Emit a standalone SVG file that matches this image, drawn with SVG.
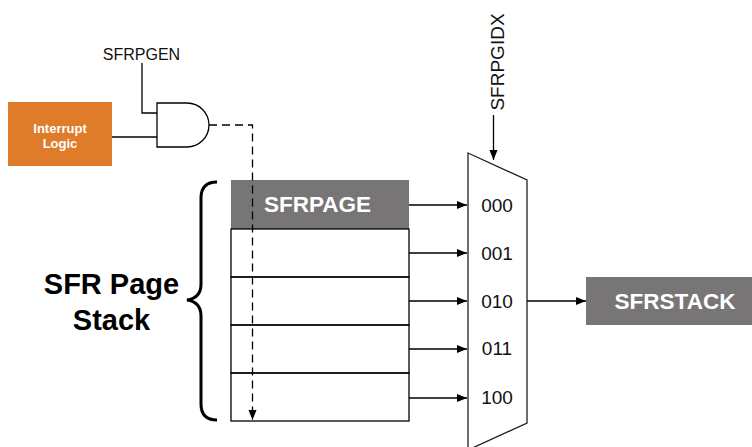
<svg xmlns="http://www.w3.org/2000/svg" width="752" height="447" viewBox="0 0 752 447">
<defs>
<marker id="ah" viewBox="0 0 10 10" refX="10" refY="5" markerWidth="10" markerHeight="10" markerUnits="userSpaceOnUse" orient="auto">
<path d="M0,1 L10,5 L0,9 Z" fill="#000"/>
</marker>
<style>
.ln{stroke:#000;stroke-width:1.3;fill:none}
.lbl{font-family:"Liberation Sans",Arial,sans-serif;fill:#111}
.wt{font-family:"Liberation Sans",Arial,sans-serif;fill:#fff;font-weight:bold;text-anchor:middle}
.big{font-family:"Liberation Sans",Arial,sans-serif;fill:#000;font-weight:bold;text-anchor:middle;font-size:29px}
.grey{fill:#777575}
</style>
</defs>
<rect width="752" height="447" fill="#fff"/>

<g id="interrupt-logic">
<rect x="8" y="102" width="104" height="64" fill="#DF7C2A"/>
<text class="wt" x="60" y="132.5" font-size="13">Interrupt</text>
<text class="wt" x="60" y="147.5" font-size="13">Logic</text>
</g>

<g id="sfrpgen">
<text class="lbl" x="141.5" y="60" font-size="16" text-anchor="middle">SFRPGEN</text>
</g>

<g id="and-gate">
<path class="ln" d="M157,103 H187 A22,22 0 0 1 187,147 H157 Z" fill="#fff"/>
</g>

<g id="stack">
<rect class="grey" x="231" y="180" width="178" height="49"/>
<text class="wt" x="317.5" y="211.5" font-size="22.5">SFRPAGE</text>
<rect class="ln" x="231" y="229" width="178" height="48"/>
<rect class="ln" x="231" y="277" width="178" height="48"/>
<rect class="ln" x="231" y="325" width="178" height="48"/>
<rect class="ln" x="231" y="373" width="178" height="48"/>
</g>

<g id="brace">
<path d="M217,182 Q201,182 201,198 V284 Q201,298 187,300 Q201,302 201,316 V404 Q201,420 217,420" fill="none" stroke="#000" stroke-width="3"/>
<text class="big" x="111.5" y="293.5">SFR Page</text>
<text class="big" x="111.5" y="329.5">Stack</text>
</g>

<g id="mux">
<path d="M468,153 L527,180 L527,423 L468,450 Z" fill="#fff" stroke="#222" stroke-width="1.3"/>
<text class="lbl" x="497" y="211.5" font-size="19" text-anchor="middle">000</text>
<text class="lbl" x="497" y="259.5" font-size="19" text-anchor="middle">001</text>
<text class="lbl" x="497" y="307.5" font-size="19" text-anchor="middle">010</text>
<text class="lbl" x="497" y="355" font-size="19" text-anchor="middle">011</text>
<text class="lbl" x="497" y="403.5" font-size="19" text-anchor="middle">100</text>
</g>

<g id="sfrpgidx">
<text class="lbl" transform="translate(504,62) rotate(-90)" font-size="19" text-anchor="middle">SFRPGIDX</text>
</g>

<g id="sfrstack">
<rect class="grey" x="586" y="277" width="166" height="48"/>
<text class="wt" x="675" y="308.5" font-size="22.5">SFRSTACK</text>
</g>

<g id="connectors">
<path class="ln" d="M142,63 V113 H157"/>
<path class="ln" d="M112,137 H157"/>
<path class="ln" d="M209,125 H252.5 V420" stroke-dasharray="8,5" marker-end="url(#ah)"/>
<path class="ln" d="M409,205 H467" marker-end="url(#ah)"/>
<path class="ln" d="M409,253 H467" marker-end="url(#ah)"/>
<path class="ln" d="M409,301 H467" marker-end="url(#ah)"/>
<path class="ln" d="M409,349 H467" marker-end="url(#ah)"/>
<path class="ln" d="M409,398 H467" marker-end="url(#ah)"/>
<path class="ln" d="M527,301 H586" marker-end="url(#ah)"/>
<path class="ln" d="M493.5,115 V160" marker-end="url(#ah)"/>
</g>
</svg>
